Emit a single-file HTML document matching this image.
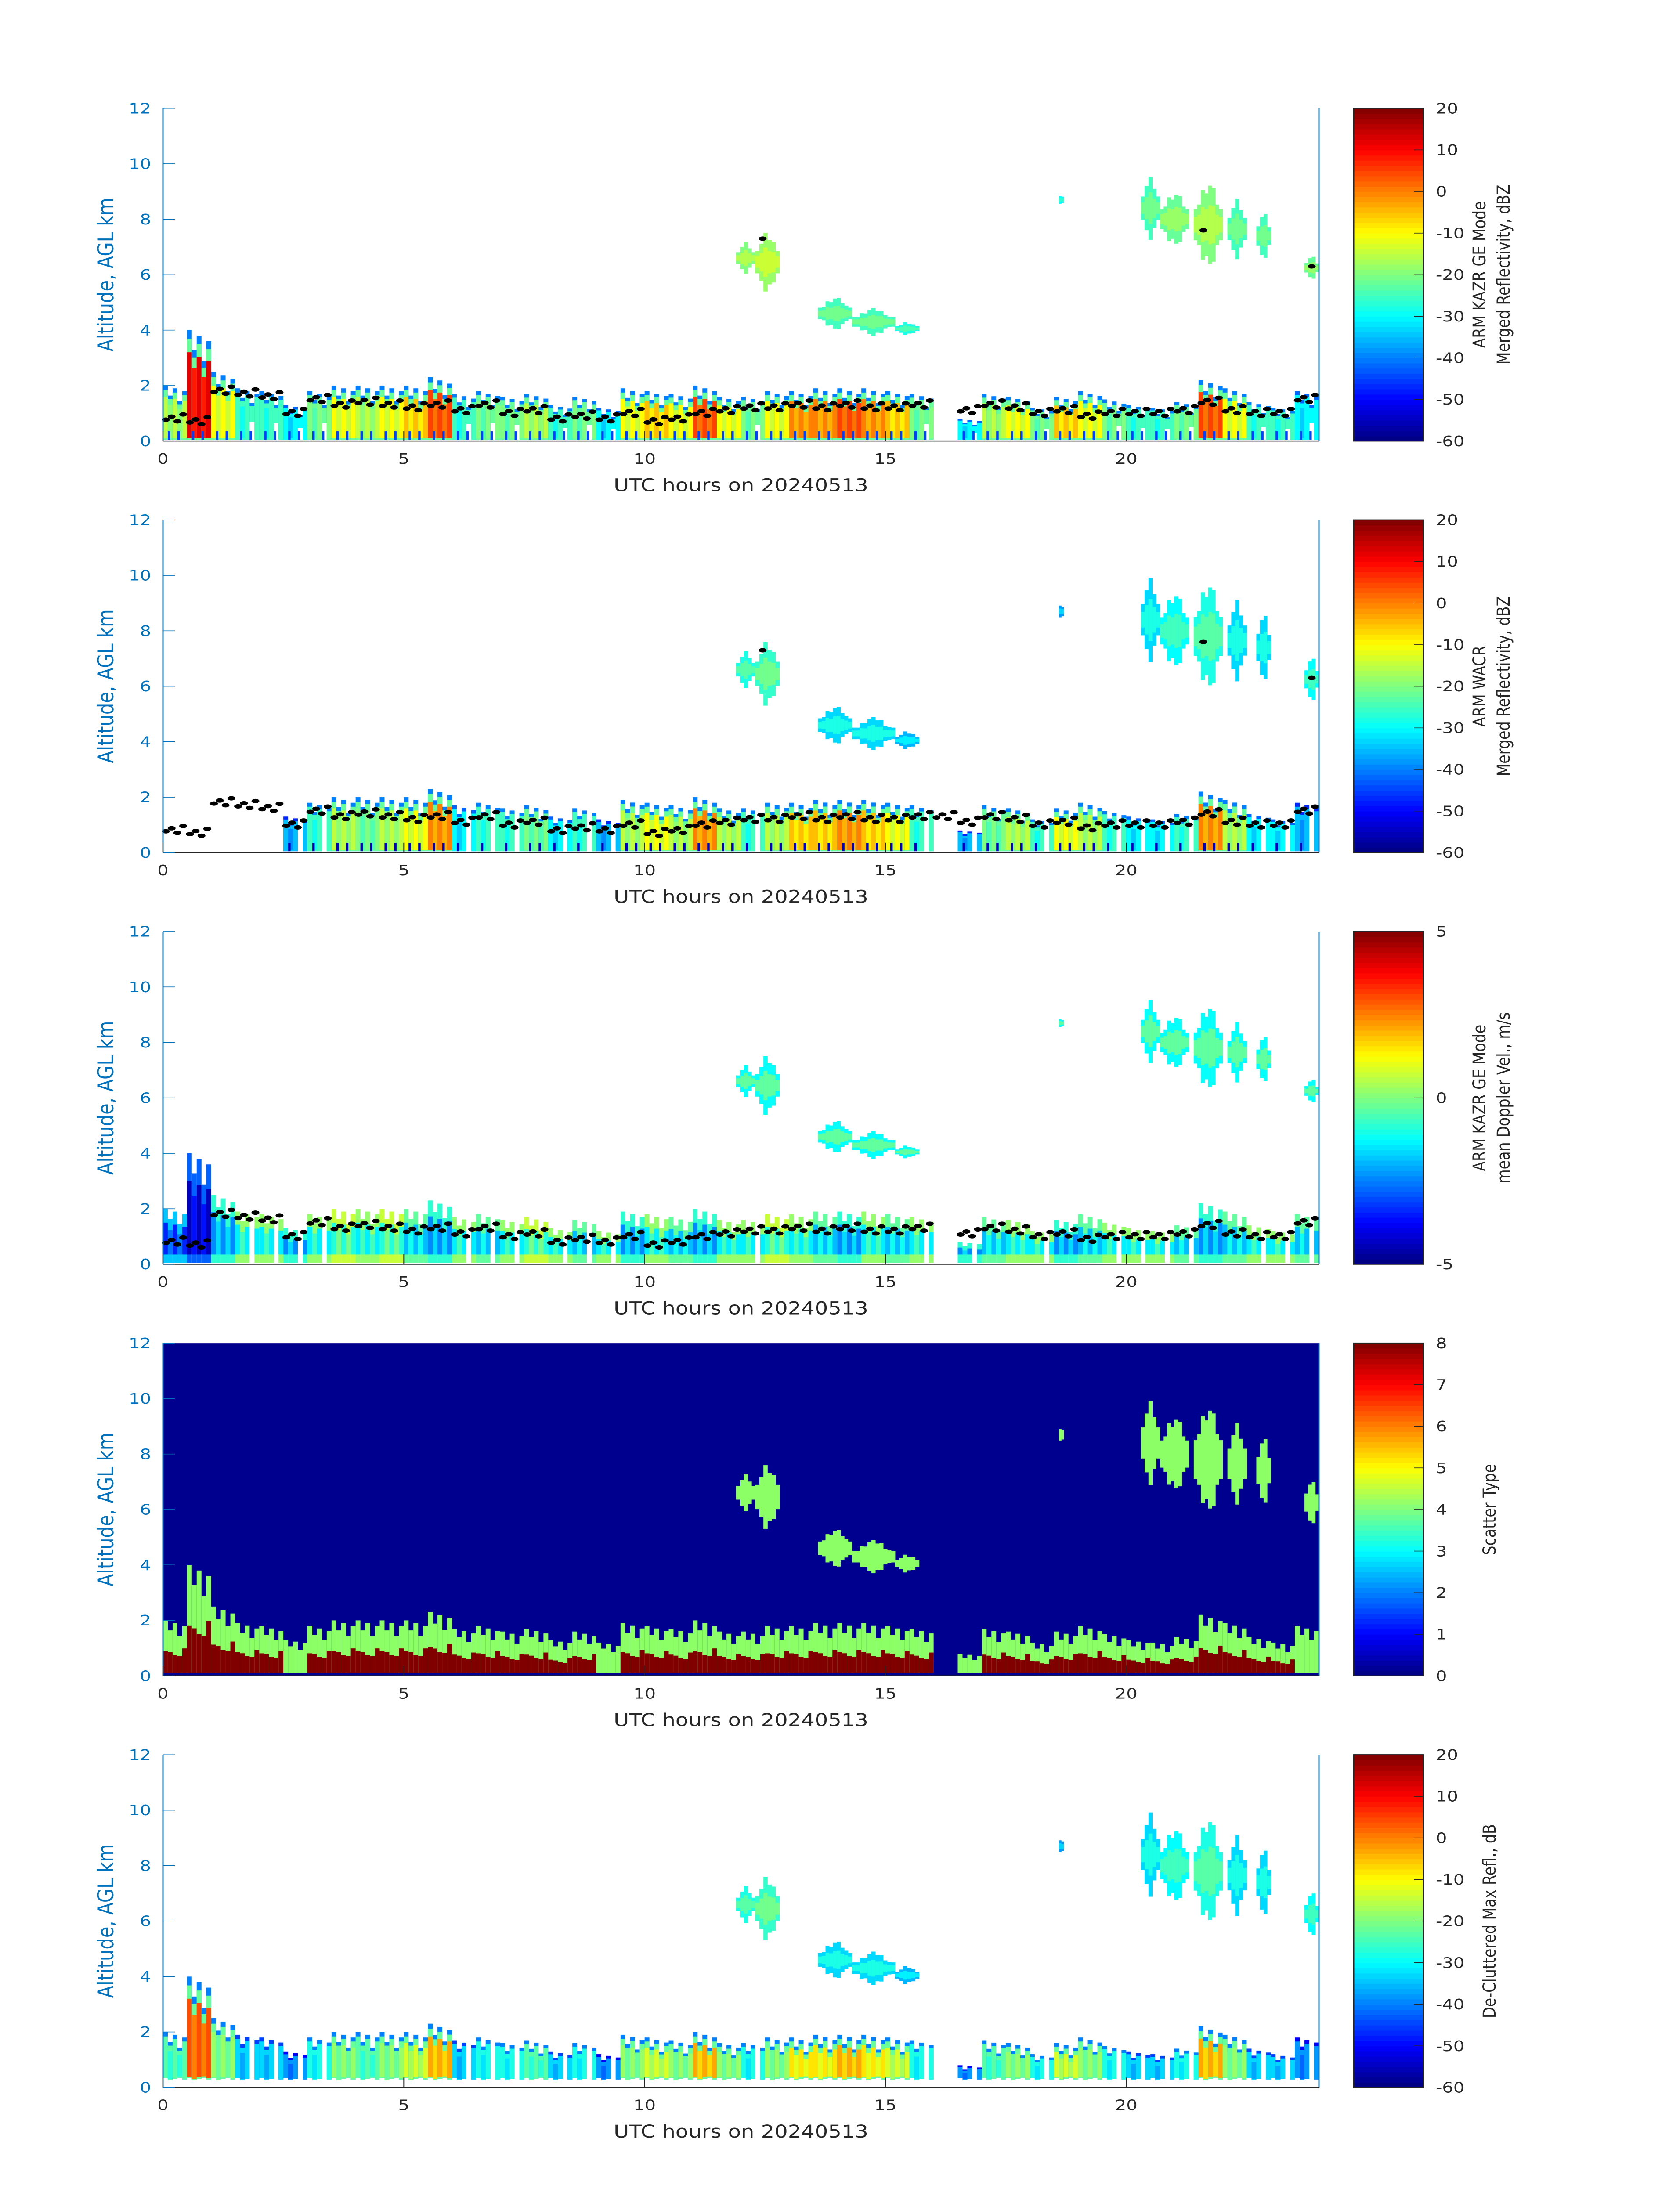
<!DOCTYPE html>
<html><head><meta charset="utf-8"><style>
html,body{margin:0;padding:0;background:#fff;overflow:hidden}
svg{display:block;width:100vw;height:100vh}
text{font-family:"DejaVu Sans","Liberation Sans",sans-serif}
</style></head><body>
<svg id="fig" viewBox="0 0 3825 6000" preserveAspectRatio="none" xmlns="http://www.w3.org/2000/svg"></svg>
<script>
// ---- data ----
const binStart = [0,0.5,1,1.5,2,2.5,3,3.5,4,4.5,5,5.5,6,6.5,7,7.5,8,8.5,9,9.5,10,10.5,11,11.5,12,12.5,13,13.5,14,14.5,15,15.5,16,16.5,17,17.5,18,18.5,19,19.5,20,20.5,21,21.5,22,22.5,23,23.5];
const lowTop = [2.0,4.0,2.5,1.9,1.8,1.3,1.8,2.0,2.0,2.0,2.0,2.3,1.7,1.8,1.6,1.7,1.3,1.6,1.2,1.9,1.8,1.7,2.0,1.6,1.6,1.8,1.8,1.9,1.9,1.9,1.8,1.7,0,0.8,1.7,1.6,1.2,1.6,1.8,1.5,1.3,1.2,1.4,2.2,1.9,1.4,1.2,1.8];
const lowDbz = [-15,12,-10,-25,-25,-30,-20,-10,-15,-10,-5,5,-25,-20,-20,-15,-25,-20,-30,-10,-5,-10,5,-10,-20,-10,0,0,5,0,-5,-20,-40,-30,-15,-10,-20,-5,-10,-20,-25,-25,-20,5,-10,-25,-25,-30];
const lowVel = [-2,-3,-1,0,0,-1,0,0.5,0,0.5,-0.5,-1,0,-0.5,0,0.5,0,-0.5,0,-1,0,-0.5,-1,0,0,0.5,0,-0.5,-1,0,-0.5,0,0,-1,-0.5,0,0,-1,-0.5,0,0,0,-0.5,-1,-0.5,0,0,-0.5];
const cloudBase = [0.8,0.7,1.8,1.7,1.6,1.0,1.5,1.3,1.4,1.3,1.2,1.3,1.1,1.3,1.0,1.1,0.8,0.9,0.8,1.0,0.7,0.8,1.0,1.1,1.2,1.2,1.3,1.2,1.3,1.2,1.2,1.3,1.3,1.1,1.3,1.2,1.0,1.1,0.9,1.0,1.0,1.0,1.1,1.4,1.1,1.0,1.0,1.5];
const upT0 = [11.9,12.3,13.6,14.3,15.2,18.6,20.3,20.7,21.4,22.1,22.7,23.7];
const upT1 = [12.3,12.8,14.3,15.2,15.7,18.7,20.7,21.3,22.0,22.5,23.0,24.0];
const upBase = [6.0,5.3,4.0,3.8,3.8,8.5,7.2,7.0,6.2,6.5,6.5,5.8];
const upTop = [7.2,7.6,5.2,4.8,4.3,8.9,9.6,9.0,9.4,8.8,8.3,6.7];
const upDbz = [-20,-18,-25,-25,-28,-30,-25,-22,-20,-25,-25,-22];
const xTicks = [0,5,10,15,20];
const yTicks = [0,2,4,6,8,10,12];
const cbTicksRefl = [20,10,0,-10,-20,-30,-40,-50,-60];
const cbTicksVel = [5,0,-5];
const cbTicksType = [8,7,6,5,4,3,2,1,0];

// ---- layout ----
const NS="http://www.w3.org/2000/svg";
const svg=document.getElementById('fig');
const AX_L=371, AX_R=3003, AX_H=909, TOP0=296, STEP=1124.6, CB_L=3082, CB_R=3241;
const BLUE="#0072BD";
const pat=[1,0.82,0.95,0.72,0.9];
function el(tag,attrs,parent){const e=document.createElementNS(NS,tag);for(const k in attrs)e.setAttribute(k,attrs[k]);(parent||svg).appendChild(e);return e;}
function jet(v){v=Math.max(0,Math.min(1,v));
 const r=Math.max(0,Math.min(1,Math.min(4*v-1.5,-4*v+4.5)));
 const g=Math.max(0,Math.min(1,Math.min(4*v-0.5,-4*v+3.5)));
 const b=Math.max(0,Math.min(1,Math.min(4*v+0.5,-4*v+2.5)));
 return `rgb(${Math.round(r*255)},${Math.round(g*255)},${Math.round(b*255)})`;}

const panels=[
 {kind:'refl',label:["ARM KAZR GE Mode","Merged Reflectivity, dBZ"],ticks:cbTicksRefl,lo:-60,hi:20,dots:true},
 {kind:'wacr',label:["ARM WACR","Merged Reflectivity, dBZ"],ticks:cbTicksRefl,lo:-60,hi:20,dots:true},
 {kind:'vel',label:["ARM KAZR GE Mode","mean Doppler Vel., m/s"],ticks:cbTicksVel,lo:-5,hi:5,dots:true},
 {kind:'type',label:["Scatter Type"],ticks:cbTicksType,lo:0,hi:8,dots:false},
 {kind:'declut',label:["De-Cluttered Max Refl., dB"],ticks:cbTicksRefl,lo:-60,hi:20,dots:false}
];

panels.forEach((p,pi)=>{
 const top=TOP0+pi*STEP, bot=top+AX_H;
 const g=el('g',{});
 
 
 const xs=t=>AX_L+t/24*(AX_R-AX_L);
 const ys=h=>bot-h/12*AX_H;
 const cmap=v=>jet((v-p.lo)/(p.hi-p.lo));
 if(p.kind==='type'){
   const bg=el('rect',{x:AX_L,y:top,width:AX_R-AX_L,height:AX_H,fill:'#00008F'},g);
   
   
 }
 const marks=el('g',{},g);
 
 
 // low clouds
 binStart.forEach((t0,i)=>{
   let topH=lowTop[i];
   if(topH<=0) return;
   if(p.kind==='wacr' && t0<2.3) return;
   for(let k=0;k<5;k++){
     const ts=t0+k*0.1, h=topH*pat[k];
     const x=xs(ts), w=xs(ts+0.1)-x;
     const y0=p.kind==='declut'?0.35*pat[(k+2)%5]:0.05;
     const gap=(k===3 && lowDbz[i]<-15);
     if(p.kind==='type'){
       el('rect',{x:x,y:ys(h),width:w,height:ys(0.1)-ys(h),fill:'#8CFF66'},marks);
       if(lowDbz[i]>-28) el('rect',{x:x,y:ys(h*0.55*pat[(k+1)%5]),width:w,height:ys(0.1)-ys(h*0.55*pat[(k+1)%5]),fill:'#800000'},marks);
     } else if(p.kind==='vel'){
       if(gap) continue;
       el('rect',{x:x,y:ys(h),width:w,height:ys(y0)-ys(h),fill:cmap(lowVel[i]+0.2)},marks);
       el('rect',{x:x,y:ys(h*0.75),width:w,height:ys(y0+0.3)-ys(h*0.75),fill:cmap(lowVel[i]-(k%2?0.6:1.4))},marks);
     } else {
       if(gap && p.kind!=='refl') continue;
       const dv=p.kind==='wacr'?lowDbz[i]-5:(p.kind==='declut'?lowDbz[i]-8:lowDbz[i]);
       const bottom=gap?h*0.5:y0;
       el('rect',{x:x,y:ys(h),width:w,height:ys(bottom)-ys(h),fill:cmap(Math.min(dv,-28)-12)},marks);
       el('rect',{x:x,y:ys(h*0.92),width:w,height:ys(bottom)-ys(h*0.92),fill:cmap(Math.min(dv,-22))},marks);
       if(!gap) el('rect',{x:x,y:ys(h*0.8),width:w,height:ys(y0+0.05)-ys(h*0.8),fill:cmap(dv-(k%2?4:0))},marks);
       if(p.kind!=='declut' && k%2===1) el('rect',{x:x,y:ys(0.35),width:w*0.5,height:ys(0.05)-ys(0.35),fill:cmap(p.kind==='wacr'?-55:-45)},marks);
     }
   }
 });
 // upper clouds
 const grow=(p.kind==='wacr'||p.kind==='type'||p.kind==='declut')?1.0:0;
 upT0.forEach((t0,i)=>{
   const t1=upT1[i]; const b=upBase[i]-(t0>20?grow*0.4:grow*0.1), tp=upTop[i]+(t0>20?grow*0.4:grow*0.1);
   const n=Math.max(2,Math.round((t1-t0)/0.08));
   for(let k=0;k<n;k++){
     const ts=t0+(t1-t0)*k/n, te=t0+(t1-t0)*(k+1)/n;
     const f=Math.sin(Math.PI*(k+0.5)/n)*pat[k%5];
     const mid=(b+tp)/2, half=(tp-b)/2*Math.max(0.35,f);
     let col;
     if(p.kind==='type') col='#8CFF66';
     else if(p.kind==='vel') col=cmap(-1.2);
     else col=cmap(upDbz[i]-(p.kind==='wacr'||p.kind==='declut'?8:0));
     el('rect',{x:xs(ts),y:ys(mid+half),width:xs(te)-xs(ts)+0.5,height:ys(mid-half)-ys(mid+half),fill:col},marks);
     if(p.kind!=='type'){
       el('rect',{x:xs(ts),y:ys(mid+half*0.5),width:xs(te)-xs(ts)+0.5,height:ys(mid-half*0.5)-ys(mid+half*0.5),fill:p.kind==='vel'?cmap(-0.3):cmap(upDbz[i]+(p.kind==='refl'?4:-3))},marks);
     }
   }
 });
 // cloud base dots
 if(p.dots){
   const dg=el('g',{},g);
   
   
   binStart.forEach((t0,i)=>{
     if(lowTop[i]<=0 && p.kind!=='wacr') return;
     for(let k=0;k<4;k++){
       const h=cloudBase[i]+(k%2?0.08:-0.06)*(k+1)/2;
       const c=el('ellipse',{cx:xs(t0+0.06+k*0.12),cy:ys(h),rx:9,ry:6,fill:'#000'},dg);
       
       
     }
   });
   if(p.kind!=='vel'){
     [[12.45,7.3],[21.6,7.6],[23.85,6.3]].forEach(d=>{el('ellipse',{cx:xs(d[0]),cy:ys(d[1]),rx:9,ry:6,fill:'#000'},dg);});
   }
 }
 // axes
 const ax=el('g',{},g);
 
 
 el('line',{x1:AX_L,y1:top,x2:AX_L,y2:bot,stroke:BLUE,'stroke-width':3},ax);
 el('line',{x1:AX_R,y1:top,x2:AX_R,y2:bot,stroke:BLUE,'stroke-width':3},ax);
 el('line',{x1:AX_L,y1:bot,x2:AX_R,y2:bot,stroke:'#262626','stroke-width':3},ax);
 yTicks.forEach(v=>{
   el('line',{x1:AX_L,y1:ys(v),x2:AX_L+27,y2:ys(v),stroke:BLUE,'stroke-width':2},ax);
   const tx=el('text',{x:344,y:ys(v)+14,'text-anchor':'end','font-size':40,fill:BLUE},ax);
   tx.textContent=v;
   
   
 });
 xTicks.forEach(v=>{
   el('line',{x1:xs(v),y1:bot,x2:xs(v),y2:bot-27,stroke:'#262626','stroke-width':2},ax);
   const tx=el('text',{x:xs(v),y:bot+62,'text-anchor':'middle','font-size':40,fill:'#262626'},ax);
   tx.textContent=v;
   
   
 });
 const yl=el('text',{x:0,y:0,transform:`translate(258,${top+AX_H/2}) rotate(-90)`,'text-anchor':'middle','font-size':50,fill:BLUE},ax);
 yl.textContent="Altitude, AGL km";
 
 
 const xl=el('text',{x:(AX_L+AX_R)/2,y:bot+137,'text-anchor':'middle','font-size':48,fill:'#262626'},ax);
 xl.textContent="UTC hours on 20240513";
 
 
 // colorbar
 const cb=el('g',{},g);
 
 
 const N=64;
 for(let k=0;k<N;k++){
   el('rect',{x:CB_L,y:bot-(k+1)*AX_H/N,width:CB_R-CB_L,height:AX_H/N+1,fill:jet((k+0.5)/N)},cb);
 }
 el('rect',{x:CB_L,y:top,width:CB_R-CB_L,height:AX_H,fill:'none',stroke:'#262626','stroke-width':3},cb);
 p.ticks.forEach(v=>{
   const y=bot-(v-p.lo)/(p.hi-p.lo)*AX_H;
   el('line',{x1:CB_R-22,y1:y,x2:CB_R,y2:y,stroke:'#262626','stroke-width':2},cb);
   const tx=el('text',{x:CB_R+28,y:y+14,'font-size':40,fill:'#262626'},cb);
   tx.textContent=v;
   
   
 });
 const cx=p.label.length>1?3382:3405;
 p.label.forEach((s,li)=>{
   const tx=el('text',{x:0,y:0,transform:`translate(${cx+li*55},${top+AX_H/2}) rotate(-90)`,'text-anchor':'middle','font-size':40,fill:'#262626'},cb);
   tx.textContent=s;
   
   
 });
});
</script>
</body></html>
